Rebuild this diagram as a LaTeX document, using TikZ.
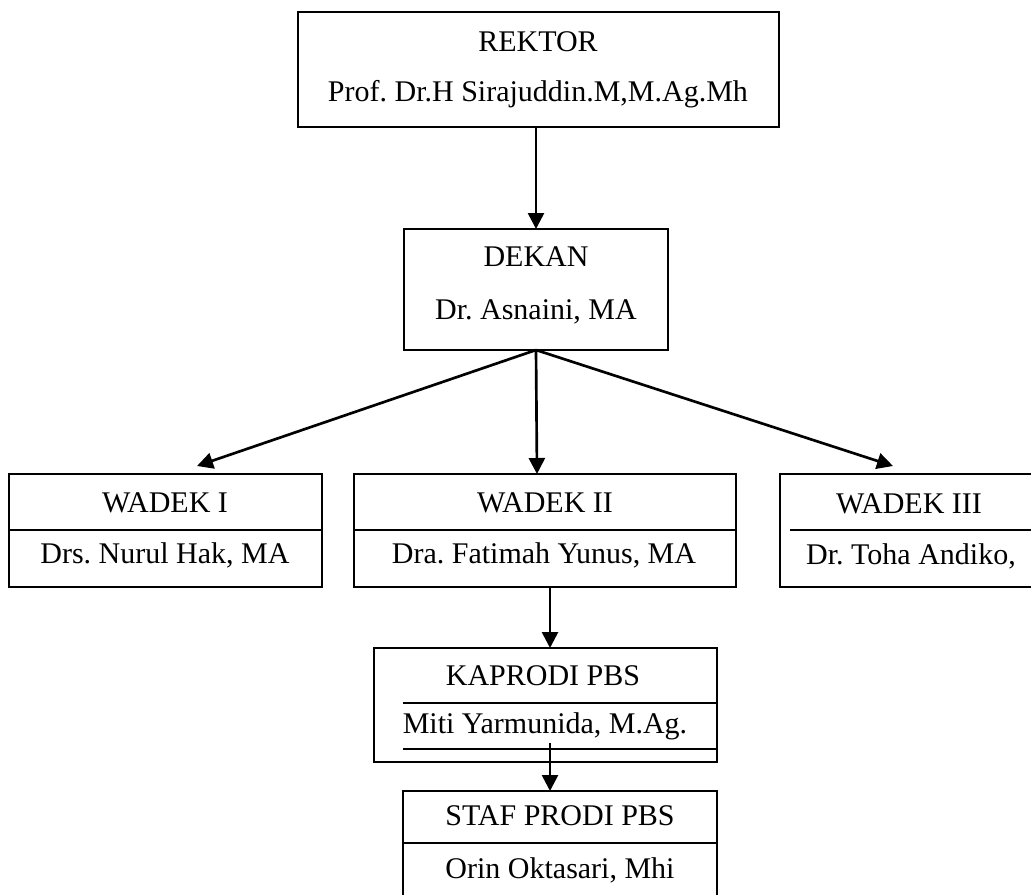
\documentclass[tikz,border=0pt]{standalone}
\usepackage{fontspec}
\setmainfont{Liberation Serif}
\usetikzlibrary{arrows.meta}
\frenchspacing
\begin{document}
\begin{tikzpicture}[x=0.75pt,y=-0.75pt,
  box/.style={draw,line width=1.5pt,inner sep=0pt,outer sep=0pt,rectangle},
  lbl/.style={anchor=base,inner sep=0pt,font=\fontsize{22.5pt}{27pt}\selectfont},
  conn/.style={line width=2pt,-{Triangle[length=12pt,width=12pt]}},
  divider/.style={line width=1.5pt}]
\useasboundingbox (0,0) rectangle (1031,895);
\clip (0,0) rectangle (1031,895);
\fill[white] (0,0) rectangle (1031,895);
% boxes
\node[box,minimum width=360.75pt,minimum height=86.25pt] (rektor) at (538.5,69.5) {};
\node[box,minimum width=198pt,minimum height=90.75pt] (dekan) at (536,289.5) {};
\node[box,minimum width=234.75pt,minimum height=84.75pt] (w1) at (165.5,530.5) {};
\node[box,minimum width=286.5pt,minimum height=84.75pt] (w2) at (545,530.5) {};
\node[box,minimum width=198.75pt,minimum height=84.75pt] (w3) at (912.5,530.5) {};
\node[box,minimum width=257.25pt,minimum height=85.5pt] (kaprodi) at (545.5,705) {};
\node[box,minimum width=235.5pt,minimum height=85.5pt] (staf) at (560,848) {};
% dividers
\draw[divider] (9,530) -- (322,530);
\draw[divider] (354,530) -- (736,530);
\draw[divider] (790,530) -- (1045,530);
\draw[divider] (403,703) -- (717,703);
\draw[divider] (403,749) -- (717,749);
\draw[divider] (403,843) -- (717,843);
% texts
\node[lbl] (t-rektor) at (538,52) {REKTOR};
\node[lbl] (n-rektor) at (538,102) {Prof. Dr.H Sirajuddin.M,M.Ag.Mh};
\node[lbl] (t-dekan) at (536,266) {DEKAN};
\node[lbl] (n-dekan) at (536,319) {Dr. Asnaini, MA};
\node[lbl] (t-w1) at (165,512) {WADEK I};
\node[lbl] (n-w1) at (165,563) {Drs. Nurul Hak, MA};
\node[lbl] (t-w2) at (545,512) {WADEK II};
\node[lbl] (n-w2) at (544,563) {Dra. Fatimah Yunus, MA};
\node[lbl] (t-w3) at (909,513) {WADEK III};
\node[lbl] (n-w3) at (911,564) {Dr. Toha Andiko,};
\node[lbl] (t-kap) at (543,685) {KAPRODI PBS};
\node[lbl] (n-kap) at (545,733) {Miti Yarmunida, M.Ag.};
\node[lbl] (t-staf) at (560,825) {STAF PRODI PBS};
\node[lbl] (n-staf) at (560,878) {Orin Oktasari, Mhi};
% connectors
\coordinate (tip1) at (197,466);
\coordinate (tip2) at (537,474);
\coordinate (tip3) at (893,466);
\coordinate (c2) at (550,700);
\coordinate (ks) at (550,743);
\draw[conn] (rektor.south -| dekan.north) -- (dekan.north);
\draw[conn] (dekan.south) -- (tip1);
\draw[conn] (dekan.south) -- (tip2);
\draw[conn] (dekan.south) -- (tip3);
\draw[conn] (w2.south -| c2) -- (kaprodi.north -| c2);
\draw[conn] (ks) -- (staf.north -| ks);
\end{tikzpicture}
\end{document}
